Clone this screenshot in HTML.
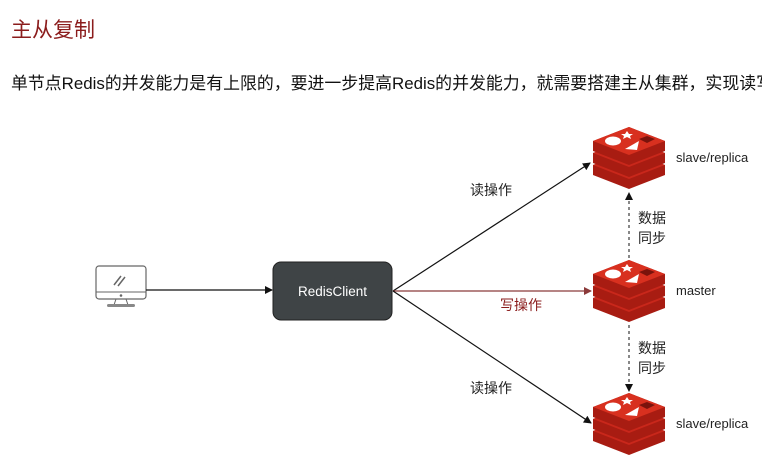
<!DOCTYPE html>
<html><head><meta charset="utf-8"><style>
body{margin:0;width:762px;height:460px;background:#fff;overflow:hidden;position:relative;font-family:"Liberation Sans","Noto Sans CJK SC",sans-serif}
.t{position:absolute;white-space:nowrap}
</style></head><body>
<div class="t" style="left:11px;top:14px;font-size:21px;color:#8b1c1c">主从复制</div>
<div class="t" style="left:11px;top:69px;width:751px;overflow:hidden;font-size:16.9px;color:#111">单节点Redis的并发能力是有上限的，要进一步提高Redis的并发能力，就需要搭建主从集群，实现读写分离。</div>
<svg width="762" height="460" style="position:absolute;left:0;top:0">
<defs>
<marker id="a" markerWidth="8" markerHeight="8" refX="7" refY="4" orient="auto" markerUnits="userSpaceOnUse"><path d="M0,0L8,4L0,8z" fill="#111"/></marker>
<marker id="r" markerWidth="8" markerHeight="8" refX="7" refY="4" orient="auto" markerUnits="userSpaceOnUse"><path d="M0,0L8,4L0,8z" fill="#8b3a3a"/></marker>
<g id="redis">
<g transform="translate(0,24)"><path d="M0,14L36,0L72,14L72,24L36,38L0,24z" fill="#a81c12"/><path d="M0,14L36,0L72,14L36,28z" fill="#c9271b"/></g>
<g transform="translate(0,12)"><path d="M0,14L36,0L72,14L72,24L36,38L0,24z" fill="#a81c12"/><path d="M0,14L36,0L72,14L36,28z" fill="#c9271b"/></g>
<path d="M0,14L36,0L72,14L72,24L36,38L0,24z" fill="#a81c12"/><path d="M0,14L36,0L72,14L36,28z" fill="#d8301f"/>
<ellipse cx="20" cy="14" rx="8" ry="4.5" fill="#fff"/>
<path d="M34,4l2,3 4,0 -3,2 1,3 -4,-2 -4,2 1,-3 -3,-2 4,0z" fill="#fff"/>
<path d="M32,22L46,14L44,23z" fill="#fff"/>
<path d="M46,12L54,9L62,12L54,16z" fill="#7a130c"/>
</g>
</defs>
<rect x="96" y="266" width="50" height="33" rx="3" fill="#fff" stroke="#666" stroke-width="1.2"/>
<line x1="96" y1="292" x2="146" y2="292" stroke="#666"/>
<circle cx="121" cy="295.5" r="1.3" fill="#666"/>
<path d="M116,299L114,305M126,299L128,305" stroke="#666"/>
<rect x="107" y="304" width="28" height="3" rx="1.5" fill="#888"/>
<path d="M114,285l7,-9M118,286l7,-9" stroke="#666" stroke-width="1.5"/>
<line x1="146" y1="290" x2="272" y2="290" stroke="#111" stroke-width="1.2" marker-end="url(#a)"/>
<rect x="273" y="262" width="119" height="58" rx="8" fill="#3f4446" stroke="#222"/>
<text x="332.5" y="296" font-size="13.5" fill="#fff" text-anchor="middle" font-family="Liberation Sans,sans-serif">RedisClient</text>
<line x1="393" y1="291" x2="590" y2="163" stroke="#111" stroke-width="1.2" marker-end="url(#a)"/>
<line x1="393" y1="291" x2="591" y2="291" stroke="#8b3a3a" stroke-width="1.2" marker-end="url(#r)"/>
<line x1="393" y1="291" x2="591" y2="423" stroke="#111" stroke-width="1.2" marker-end="url(#a)"/>
<line x1="629" y1="258" x2="629" y2="193" stroke="#111" stroke-dasharray="3,3" marker-end="url(#a)"/>
<line x1="629" y1="325" x2="629" y2="391" stroke="#111" stroke-dasharray="3,3" marker-end="url(#a)"/>
<use href="#redis" x="593" y="127"/>
<use href="#redis" x="593" y="260"/>
<use href="#redis" x="593" y="393"/>
</svg>
<div class="t" style="left:470px;top:180px;font-size:14px;color:#222">读操作</div>
<div class="t" style="left:500px;top:295px;font-size:14px;color:#8b1c1c">写操作</div>
<div class="t" style="left:470px;top:378px;font-size:14px;color:#222">读操作</div>
<div class="t" style="left:638px;top:208px;font-size:14px;line-height:20px;color:#222">数据<br>同步</div>
<div class="t" style="left:638px;top:338px;font-size:14px;line-height:20px;color:#222">数据<br>同步</div>
<div class="t" style="left:676px;top:150px;font-size:13px;color:#222">slave/replica</div>
<div class="t" style="left:676px;top:283px;font-size:13px;color:#222">master</div>
<div class="t" style="left:676px;top:416px;font-size:13px;color:#222">slave/replica</div>
</body></html>
